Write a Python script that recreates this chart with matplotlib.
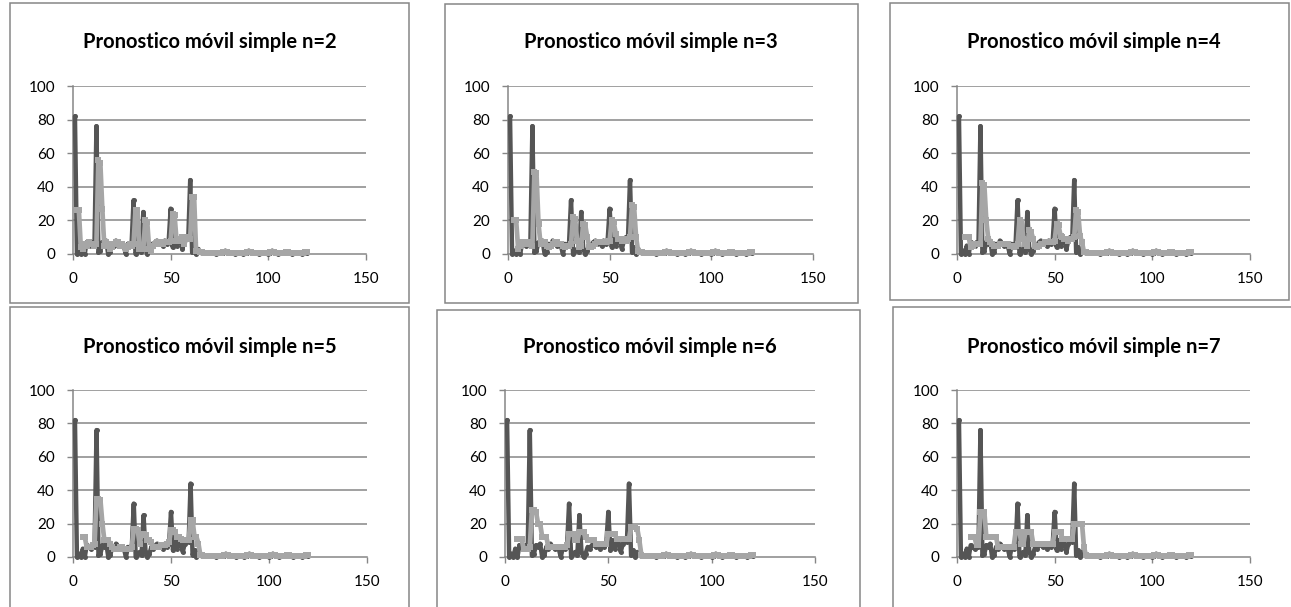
import matplotlib
matplotlib.use("Agg")
import matplotlib.pyplot as plt
from matplotlib.patches import Rectangle

W, H = 1291, 607

# ---------------- data ----------------
periods = list(range(1, 121))

actual = [
    82, 0, 2, 0, 5, 0, 7, 6, 5, 7,
    6, 76, 1, 2, 7, 6, 8, 0, 1, 6,
    5, 8, 6, 5, 6, 5, 0, 6, 5, 6,
    32, 0, 2, 3, 1, 25, 3, 0, 2, 6,
    5, 7, 8, 6, 7, 5, 8, 6, 8, 27,
    4, 10, 5, 9, 8, 3, 8, 10, 9, 44,
    1, 4, 0, 3, 1, 0.5, 1, 0.5, 1, 0.5,
    1, 0.5, 0, 1, 0.5, 1, 0.5, 2, 1, 0.5,
    0.5, 1, 0, 0.5, 1, 0.5, 0, 1, 0.5, 2,
    1, 0.5, 1, 0.5, 0, 1, 0.5, 0.5, 1, 0,
    0.5, 2, 1, 0.5, 0, 1, 0.5, 0.5, 1, 1.5,
    0.5, 0, 1, 0.5, 0.5, 1, 0, 0.5, 1.5, 0.5,
]

# forecast values for periods 66..120 (nearly identical in all panels)
forecast_tail = [
    1.0, 0.8, 0.7, 0.8, 0.7, 0.8, 0.6, 0.5, 0.6, 0.7,
    0.7, 0.9, 1.4, 1.2, 0.8, 0.6, 0.6, 0.5, 0.5, 0.6,
    0.5, 0.6, 0.6, 0.9, 1.3, 1.1, 0.8, 0.7, 0.6, 0.6,
    0.6, 0.5, 0.5, 0.5, 0.6, 0.9, 1.3, 1.0, 0.6, 0.6,
    0.5, 0.6, 0.7, 1.0, 1.1, 0.7, 0.5, 0.6, 0.6, 0.5,
    0.5, 0.6, 0.8, 1.1, 1.0,
]

# forecast values from period n up to period 65
forecast_n2 = [26, 26, 4, 3, 6, 5, 7, 6, 6,
               5, 6, 56, 54, 27, 5, 7, 6, 3, 4,
               6, 7, 7, 5, 6, 5, 3, 4, 6, 5,
               6, 26, 26, 3, 4, 3, 20, 19, 3, 2,
               5, 6, 7, 6, 7, 6, 7, 7, 7, 8,
               24, 23, 8, 9, 8, 10, 6, 9, 10, 9,
               34, 34, 2, 1.5, 1]
forecast_n3 = [20, 20, 3, 5, 7, 6, 6, 7,
               6, 5, 49, 48, 18, 6, 7, 7, 5, 4,
               5, 6, 7, 7, 6, 6, 5, 4, 5, 5,
               6, 22, 21, 8, 4, 5, 18, 17, 10, 4,
               4, 5, 6, 7, 7, 7, 7, 7, 8, 8,
               20, 19, 12, 9, 9, 8, 9, 8, 9, 10,
               29, 28, 10, 1.5, 1]
forecast_n4 = [10, 10, 10, 4, 5, 6, 6,
               6, 6, 42, 41, 20, 9, 7, 6, 5, 5,
               5, 6, 6, 6, 6, 6, 5, 5, 4, 5,
               6, 20, 19, 9, 6, 5, 14, 13, 9, 5,
               4, 5, 6, 6, 7, 7, 7, 7, 7, 8,
               18, 17, 11, 10, 9, 9, 8, 9, 9, 10,
               26, 25, 11, 7, 1]
forecast_n5 = [12, 12, 6, 6, 6, 7,
               8, 35, 35, 34, 20, 10, 10, 10, 8, 6,
               5, 5, 5, 6, 6, 5, 5, 5, 5, 6,
               17, 17, 16, 8, 14, 14, 13, 10, 10, 9,
               6, 6, 6, 6, 7, 7, 7, 8, 9, 16,
               16, 15, 12, 12, 11, 10, 10, 10, 10, 22,
               22, 12, 12, 8, 1]
forecast_n6 = [11, 11, 11, 5, 5,
               5, 6, 28, 28, 27, 20, 20, 12, 12, 12,
               6, 6, 6, 6, 6, 6, 6, 6, 6, 7,
               14, 14, 14, 10, 10, 15, 15, 15, 12, 10,
               10, 10, 10, 8, 8, 8, 8, 8, 8, 14,
               14, 14, 14, 11, 11, 11, 11, 11, 11, 11,
               18, 18, 18, 17, 10]
forecast_n7 = [12, 12, 12, 7,
               7, 27, 27, 27, 12, 12, 12, 12, 12, 12,
               6, 6, 6, 6, 6, 6, 6, 6, 6, 15,
               15, 15, 8, 8, 15, 15, 15, 15, 8, 8,
               8, 8, 8, 8, 8, 8, 8, 8, 8, 15,
               15, 15, 15, 11, 11, 11, 11, 11, 11, 20,
               20, 20, 20, 20, 6]

window_sizes = [2, 3, 4, 5, 6, 7]
forecasts = [forecast_n2, forecast_n3, forecast_n4,
             forecast_n5, forecast_n6, forecast_n7]
title_fmt = "Pronostico móvil simple n={}"
y_ticks = [0, 20, 40, 60, 80, 100]
x_ticks = [0, 50, 100, 150]

# ---------------- layout (pixels) ----------------
# chart frame boxes: (left, top, right, bottom)
frames = [(10, 3, 409, 303), (445, 4, 858, 303), (890, 3, 1289, 300),
          (10, 307, 409, 612), (437, 310, 860, 612), (893, 307, 1296, 612)]
# plot areas: (left, top, right, bottom)
areas = [(73, 86, 366, 254), (508, 86, 813, 254), (957, 86, 1250, 254),
         (73, 390, 367, 557), (505, 390, 815, 557), (957, 390, 1250, 557)]
title_y = [42, 42, 42, 347, 347, 347]

DARK = "#555555"
LIGHT = "#a6a6a6"
GRID = "#868686"

plt.rcParams['font.family'] = ['Lato', 'DejaVu Sans']

fig = plt.figure(figsize=(W / 100, H / 100), dpi=100)
fig.patch.set_facecolor("white")

for i in range(6):
    fl, ft, fr, fb = frames[i]
    fig.add_artist(Rectangle((fl / W, 1 - fb / H), (fr - fl) / W, (fb - ft) / H,
                             transform=fig.transFigure, fill=False,
                             edgecolor=GRID, linewidth=1.1))
    l, t, r, b = areas[i]
    ax = fig.add_axes([l / W, 1 - b / H, (r - l) / W, (b - t) / H])
    ax.set_xlim(0, 150)
    ax.set_ylim(0, 100)
    ax.set_facecolor("none")
    for s in ("top", "right"):
        ax.spines[s].set_visible(False)
    for s in ("left", "bottom"):
        ax.spines[s].set_color(GRID)
        ax.spines[s].set_linewidth(1.1)
    ax.set_yticks(y_ticks)
    ax.set_xticks(x_ticks)
    ax.tick_params(axis="both", direction="out", length=4, width=1.0,
                   color=GRID, labelsize=11, labelcolor="black")
    ax.tick_params(axis="y", pad=9)
    ax.tick_params(axis="x", pad=9)
    for yv in y_ticks[1:]:
        ax.axhline(yv, color=GRID, linewidth=1.1, zorder=0)

    n = window_sizes[i]
    fc = forecasts[i] + forecast_tail
    fx = list(range(n, n + len(fc)))

    ax.plot(periods, actual, color=DARK, linewidth=3.2, marker="o",
            markersize=3.6, markeredgewidth=0, solid_joinstyle="round",
            solid_capstyle="round", clip_on=False, zorder=3)
    ax.plot(fx, fc, color=LIGHT, linewidth=3.4, marker="s",
            markersize=4.0, markeredgewidth=0, solid_joinstyle="round",
            solid_capstyle="round", clip_on=False, zorder=4)

    fig.text(((l + r) / 2 - 10) / W, 1 - title_y[i] / H, title_fmt.format(n),
             ha="center", va="center", fontsize=14.5, fontweight="bold",
             color="black")

fig.savefig("out.png", dpi=100)
